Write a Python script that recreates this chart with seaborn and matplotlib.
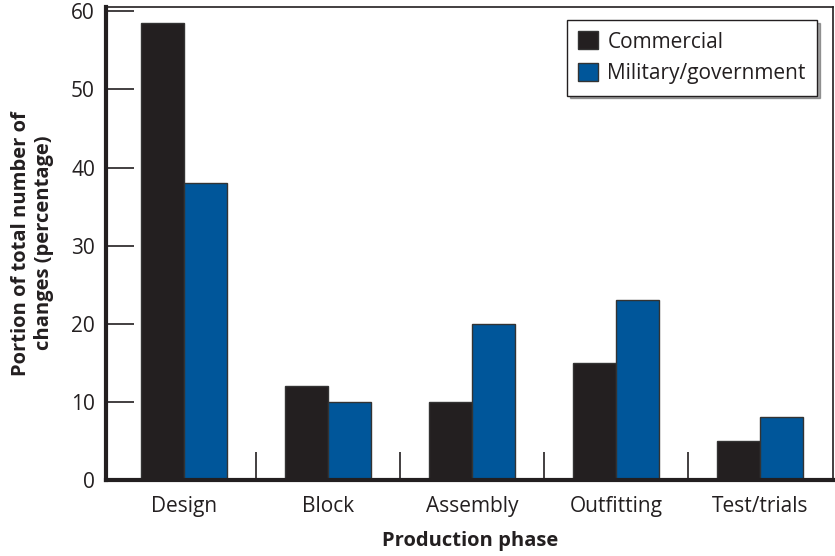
import pandas as pd
import numpy as np
import matplotlib.pyplot as plt
import seaborn as sns

# ------------------------------
# Data
# ------------------------------
phases = ["Design", "Block", "Assembly", "Outfitting", "Test/trials"]
commercial = [58.5, 12, 10, 15, 5]
military = [38, 10, 20, 23, 8]
series_names = ["Commercial", "Military/government"]
colors = ["#231f20", "#00569a"]

df = pd.DataFrame({
    "phase": phases * 2,
    "value": commercial + military,
    "series": [series_names[0]] * len(phases) + [series_names[1]] * len(phases),
})

sns.set_style("white")
plt.rcParams["font.family"] = ["Open Sans", "DejaVu Sans"]

fig = plt.figure(figsize=(8.35, 5.56), dpi=100)
ax = fig.add_axes([0.127, 0.137, 0.871, 0.851])

sns.barplot(data=df, x="phase", y="value", hue="series", order=phases,
            hue_order=series_names, palette=colors, width=0.6, saturation=1,
            edgecolor="#333333", linewidth=1, ax=ax)

ax.set_xlim(-0.54, 4.51)
ax.set_ylim(0, 60.6)
ax.set_yticks([0, 10, 20, 30, 40, 50, 60])
ax.tick_params(axis="y", direction="in", length=20, width=1.2, labelsize=15,
               left=True, pad=8, color="#231f20", labelcolor="#231f20")
ax.tick_params(axis="x", length=0, labelsize=15, pad=12, labelcolor="#231f20")
ax.set_xticks(np.arange(len(phases) - 1) + 0.5, minor=True)
ax.tick_params(axis="x", which="minor", direction="in", length=20, width=1.2,
               bottom=True, color="#231f20")

for side in ["left", "bottom"]:
    ax.spines[side].set_linewidth(3)
    ax.spines[side].set_color("#231f20")
for side in ["top", "right"]:
    ax.spines[side].set_linewidth(1.2)
    ax.spines[side].set_color("#231f20")

ax.set_xlabel("Production phase", fontsize=14.5, fontweight="bold",
              labelpad=10, color="#231f20")
ax.set_ylabel("Portion of total number of\nchanges (percentage)", fontsize=14.5,
              fontweight="bold", labelpad=12, color="#231f20")

leg = ax.legend(loc="upper right", bbox_to_anchor=(0.978, 0.972), fontsize=15,
                frameon=True, fancybox=False, shadow=True, edgecolor="#231f20",
                handlelength=0.95, handleheight=0.95, handletextpad=0.45,
                borderpad=0.55, labelspacing=0.5, borderaxespad=0)
leg.get_frame().set_linewidth(1)
for t in leg.get_texts():
    t.set_color("#231f20")

fig.savefig("out.png", dpi=100)
